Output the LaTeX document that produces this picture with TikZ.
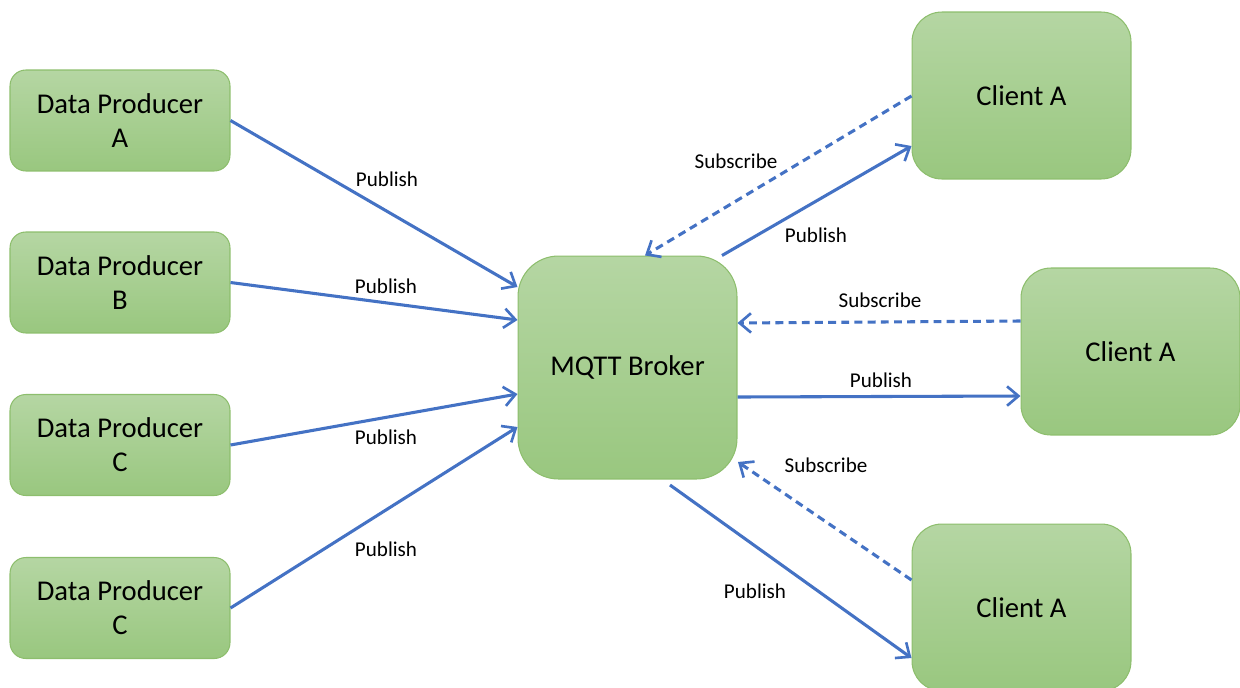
\documentclass[tikz,border=0pt]{standalone}
\usepackage{fontspec}
\setmainfont{Carlito}
\usetikzlibrary{arrows.meta}
\definecolor{gtop}{HTML}{B5D6A3}
\definecolor{gbot}{HTML}{99C77F}
\definecolor{gline}{HTML}{8DBE6D}
\definecolor{arr}{HTML}{4472C4}
\tikzset{
  box/.style={draw=gline, line width=0.6pt, top color=gtop, bottom color=gbot, align=center, inner sep=0pt, font=\fontsize{16.3}{19.5}\selectfont},
  prod/.style={box, rounded corners=9pt, minimum width=4.4cm, minimum height=2.02cm},
  client/.style={box, rounded corners=17pt, minimum width=4.38cm, minimum height=3.34cm},
  conn/.style={draw=arr, line width=1.75pt, -{Straight Barb[length=6.5pt,width=11pt,line width=1.5pt]}},
  sub/.style={conn, dash pattern=on 4.5pt off 3pt},
  lab/.style={font=\fontsize{12}{14}\selectfont, inner sep=0pt}
}
\begin{document}
\begin{tikzpicture}[x=0.02cm, y=-0.02cm]
\useasboundingbox (0,0) rectangle (1240,687);
\clip (0,0) rectangle (1240,687);
\node[prod] (pa) at (120,120.5) {Data Producer\\A};
\node[prod] (pb) at (120,282.5) {Data Producer\\B};
\node[prod] (pc) at (120,445) {Data Producer\\C};
\node[prod] (pd) at (120,608) {Data Producer\\C};
\node[box, rounded corners=23pt, minimum width=4.38cm, minimum height=4.46cm] (br) at (627.5,367.5) {MQTT Broker};
\node[client] (c1) at (1021.5,95.5) {Client A};
\node[client] (c2) at (1130.5,351.5) {Client A};
\node[client] (c3) at (1021.5,607.5) {Client A};

\draw[conn] (pa.east) -- (br.west |- 0,287);
\node[lab] (l1) at (387,179) {Publish};
\draw[conn] (pb.east) -- (br.west |- 0,320);
\node[lab] (l2) at (386,286) {Publish};
\draw[conn] (pc.east) -- (br.west |- 0,394);
\node[lab] (l3) at (386,437) {Publish};
\draw[conn] (pd.east) -- (br.west |- 0,427);
\node[lab] (l4) at (386,549) {Publish};

\draw[sub] (c1.west |- 0,96) -- (645,0 |- br.north);
\node[lab] (s1) at (736,161) {Subscribe};
\draw[conn] (722,0 |- br.north) -- (c1.west |- 0,146);
\node[lab] (p1) at (816,235) {Publish};
\draw[sub] (c2.west |- 0,321) -- (br.east |- 0,323);
\node[lab] (s2) at (880,300) {Subscribe};
\draw[conn] (br.east |- 0,397) -- (c2.west |- 0,396);
\node[lab] (p2) at (881,380) {Publish};
\draw[sub] (c3.west |- 0,580) -- (738,462);
\node[lab] (s3) at (826,465) {Subscribe};
\draw[conn] (670,485) -- (c3.west |- 0,658);
\node[lab] (p3) at (755,591) {Publish};
\end{tikzpicture}
\end{document}
